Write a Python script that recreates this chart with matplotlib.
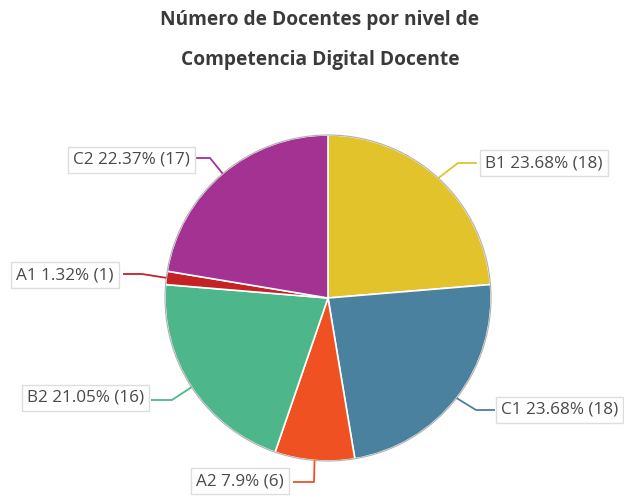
import numpy as np
import matplotlib
matplotlib.use("Agg")
import matplotlib.pyplot as plt
from matplotlib.patches import Wedge

plt.rcParams['font.family'] = ['Open Sans', 'DejaVu Sans']

categories = ["B1", "C1", "A2", "B2", "A1", "C2"]
counts = [18, 18, 6, 16, 1, 17]
percents = ["23.68%", "23.68%", "7.9%", "21.05%", "1.32%", "22.37%"]
colors = ["#E2C32B", "#4A819E", "#EF5123", "#4DB78B", "#C52226", "#A33292"]
title_lines = ["Número de Docentes por nivel de", "Competencia Digital Docente"]

W, H = 624, 497
fig = plt.figure(figsize=(W / 100, H / 100), dpi=100)
ax = fig.add_axes([0, 0, 1, 1])
ax.set_xlim(0, W)
ax.set_ylim(H, 0)
ax.set_aspect('equal')
ax.axis('off')

cx, cy, r = 328, 298, 163
total = sum(counts)
start = 90.0
mids = []
for c, col in zip(counts, colors):
    sweep = c / total * 360
    t1, t2 = start - sweep, start
    w = Wedge((cx, cy), r, -t2, -t1, facecolor=col, edgecolor='white', linewidth=1.2)
    ax.add_patch(w)
    mids.append(np.deg2rad(start - sweep / 2))
    start -= sweep

circ = plt.Circle((cx, cy), r, fill=False, edgecolor='#b0b0b0', linewidth=0.8)
ax.add_patch(circ)

label_pos = {
    "B1": (485, 163, 'left'),
    "C1": (501, 410, 'left'),
    "A2": (284, 481, 'right'),
    "B2": (144, 398, 'right'),
    "A1": (114, 275, 'right'),
    "C2": (190, 160, 'right'),
}
elbows = {
    "B1": [(458, 163), (477, 163)],
    "C1": [(476, 410), (495, 410)],
    "A2": [(314, 482), (293, 482)],
    "B2": [(172, 400), (151, 400)],
    "A1": [(142, 274), (123, 274)],
    "C2": [(210, 158), (196, 158)],
}

for cat, cnt, pct, col, m in zip(categories, counts, percents, colors, mids):
    ex = cx + r * np.cos(m)
    ey = cy - r * np.sin(m)
    pts = [(ex, ey)] + elbows[cat]
    xs, ys = zip(*pts)
    ax.plot(xs, ys, color=col, linewidth=1.3, solid_capstyle='butt')
    tx, ty, ha = label_pos[cat]
    ax.text(tx, ty, f"{cat} {pct} ({cnt})", fontsize=12.3, color='#4a4a4a',
            ha=ha, va='center',
            bbox=dict(boxstyle='square,pad=0.3', facecolor='white',
                      edgecolor='#dddddd', linewidth=1))

ax.text(320, 20, title_lines[0], fontsize=13.8, fontweight='bold',
        color='#3a3a3a', ha='center', va='center')
ax.text(320, 60, title_lines[1], fontsize=13.8, fontweight='bold',
        color='#3a3a3a', ha='center', va='center')

fig.savefig("out.png", dpi=100)
